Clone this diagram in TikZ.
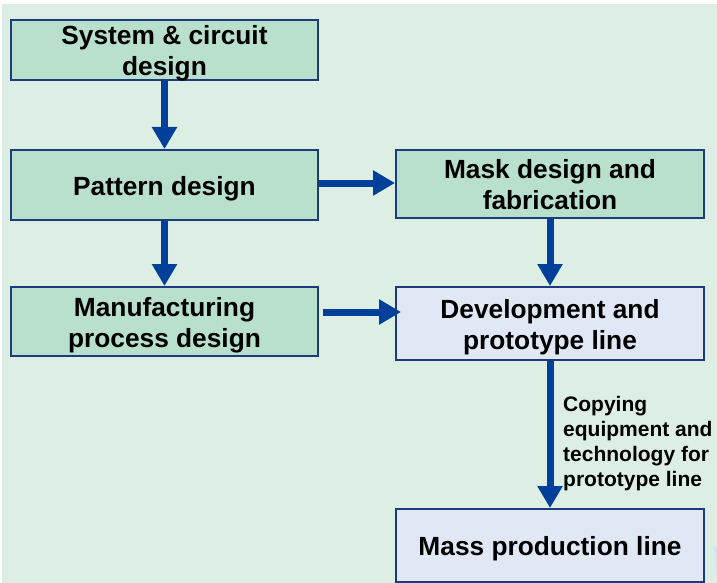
\documentclass[tikz,border=0pt]{standalone}
\usepackage{fontspec}
\setmainfont{Liberation Sans}
\usetikzlibrary{arrows.meta,calc}
\definecolor{bggreen}{HTML}{DDEFE5}
\definecolor{boxgreen}{HTML}{B8E0CD}
\definecolor{boxblue}{HTML}{E1E8F5}
\definecolor{edgeblue}{HTML}{1A3C7C}
\definecolor{arrowblue}{HTML}{00409A}
\definecolor{sliver}{HTML}{CCE8F8}
\tikzset{
  stepbox/.style={draw=edgeblue, line width=2pt, rectangle, inner sep=0pt},
  greenbox/.style={stepbox, fill=boxgreen},
  bluebox/.style={stepbox, fill=boxblue},
  boxtext/.style={inner sep=0pt, align=center, font=\bfseries\fontsize{26.3}{31}\selectfont, text=black},
  flow/.style={draw=arrowblue, line width=7pt, -{Triangle[width=24pt,length=22pt]}, arrowblue}
}
\begin{document}
\begin{tikzpicture}[x=1pt,y=-1pt]
\useasboundingbox (0,0) rectangle (717,583);
\fill[white] (0,0) rectangle (717,583);
\fill[bggreen] (2,4) rectangle (717,583);
\fill[sliver] (713,546) -- (717,548) -- (717,577) -- cycle;
\node[greenbox, minimum width=307pt, minimum height=60pt] (b1) at (164.5,50) {};
\node[greenbox, minimum width=307pt, minimum height=70pt] (b2) at (164.5,185) {};
\node[greenbox, minimum width=308pt, minimum height=68pt] (b3) at (550,184) {};
\node[greenbox, minimum width=307pt, minimum height=69pt] (b4) at (164.5,321.5) {};
\node[bluebox, minimum width=308pt, minimum height=73pt] (b5) at (550,323.5) {};
\node[bluebox, minimum width=308pt, minimum height=73pt] (b6) at (550,545.5) {};
\node[boxtext] (t1) at ($(b1.center)+(0,3)$) {System \& circuit\\design};
\node[boxtext] (t2) at ($(b2.center)+(0,3.5)$) {Pattern design};
\node[boxtext] (t3) at ($(b3.center)+(0,1)$) {Mask design and\\fabrication};
\node[boxtext] (t4) at ($(b4.center)+(0,3.5)$) {Manufacturing\\process design};
\node[boxtext] (t5) at ($(b5.center)+(0,3.5)$) {Development and\\prototype line};
\node[boxtext] (t6) at ($(b6.center)+(0,3.5)$) {Mass production line};
\draw[flow] (b1.south) -- (b2.north);
\draw[flow] (b2.south) -- (b4.north);
\draw[flow] ($(b2.east)+(0,-2)$) -- ($(b3.west)+(0,-1)$);
\draw[flow] (b3.south) -- (b5.north);
\draw[flow] ($(b4.east)+(4,-9.5)$) -- ($(b5.west)+(6,-11.5)$);
\draw[flow] (b5.south) -- (b6.north);
\node[anchor=north west, align=left, inner sep=0pt, font=\bfseries\fontsize{21}{25}\selectfont] (lbl) at (563,396)
  {Copying\\equipment and\\technology for\\prototype line};
\end{tikzpicture}
\end{document}
